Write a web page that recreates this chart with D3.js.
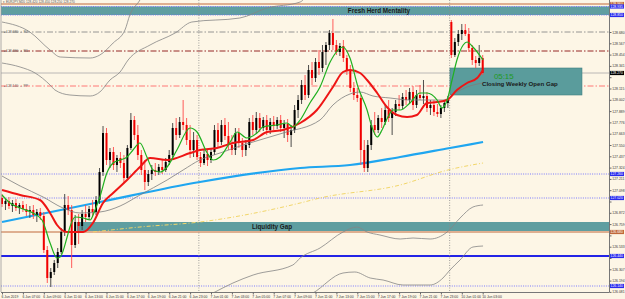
<!DOCTYPE html>
<html><head><meta charset="utf-8">
<script src="https://cdn.jsdelivr.net/npm/d3@7"></script>
<style>html,body{margin:0;padding:0;background:#fdf6e6;overflow:hidden}svg{display:block}text{font-family:"Liberation Sans",Arial,sans-serif}</style>
</head><body><svg id="c" width="625" height="299"></svg>
<script>
// ---------- DATA ----------
const ohlc = [
[127.02,127.06,126.93,126.96],[126.96,127.01,126.90,126.99],[126.99,127.03,126.91,126.94],[126.94,127.00,126.88,126.97],
[126.97,127.01,126.89,126.92],[126.92,126.97,126.86,126.95],[126.95,126.99,126.88,126.91],[126.91,126.96,126.84,126.88],
[126.88,126.94,126.82,126.90],[126.90,126.95,126.81,126.85],[126.85,126.91,126.78,126.88],[126.88,126.92,126.80,126.84],
[126.84,126.88,126.47,126.50],[126.50,126.54,126.17,126.22],[126.22,126.32,126.13,126.28],[126.28,126.40,126.25,126.37],
[126.37,126.52,126.32,126.48],[126.48,126.72,126.46,126.68],[126.68,127.06,126.64,126.95],[126.95,127.04,126.85,126.90],
[126.90,126.95,126.32,126.55],[126.55,126.85,126.52,126.78],[126.78,126.86,126.56,126.74],[126.74,126.90,126.70,126.86],
[126.86,126.95,126.78,126.83],[126.83,126.94,126.80,126.91],[126.91,127.00,126.84,126.88],[126.88,127.04,126.85,127.00],
[127.00,127.32,126.96,127.28],[127.28,127.74,127.24,127.67],[127.67,127.72,127.35,127.40],[127.40,127.52,127.32,127.48],
[127.48,127.53,127.30,127.35],[127.35,127.45,127.28,127.42],[127.42,127.48,127.32,127.37],[127.37,127.45,127.17,127.22],
[127.22,127.55,127.20,127.52],[127.52,127.87,127.50,127.80],[127.80,127.84,127.60,127.65],[127.65,127.75,127.40,127.45],
[127.45,127.50,127.25,127.30],[127.30,127.40,127.10,127.18],[127.18,127.30,127.14,127.26],[127.26,127.35,127.20,127.30],
[127.30,127.37,127.24,127.28],[127.28,127.36,127.25,127.33],[127.33,127.40,127.26,127.30],[127.30,127.42,127.28,127.38],
[127.38,127.50,127.35,127.45],[127.45,127.77,127.42,127.72],[127.72,127.82,127.60,127.65],[127.65,127.83,127.62,127.78],
[127.78,128.00,127.70,127.75],[127.75,127.82,127.55,127.60],[127.60,127.75,127.42,127.50],[127.50,127.68,127.43,127.60],
[127.60,127.65,127.40,127.43],[127.43,127.48,127.33,127.37],[127.37,127.50,127.35,127.46],[127.46,127.50,127.34,127.40],
[127.40,127.52,127.37,127.48],[127.48,127.75,127.45,127.70],[127.70,127.77,127.52,127.58],[127.58,127.80,127.55,127.75],
[127.75,127.82,127.60,127.64],[127.64,127.78,127.50,127.55],[127.55,127.65,127.45,127.50],[127.50,127.72,127.45,127.67],
[127.67,127.72,127.52,127.57],[127.57,127.62,127.43,127.50],[127.50,127.60,127.44,127.55],[127.55,127.82,127.52,127.78],
[127.78,127.85,127.65,127.70],[127.70,127.88,127.67,127.82],[127.82,127.87,127.68,127.72],[127.72,127.83,127.69,127.80],
[127.80,127.85,127.65,127.70],[127.70,127.82,127.66,127.78],[127.78,127.84,127.70,127.74],[127.74,127.83,127.71,127.80],
[127.80,127.85,127.68,127.72],[127.72,127.80,127.62,127.76],[127.76,127.81,127.58,127.65],[127.65,127.75,127.53,127.70],
[127.70,127.95,127.67,127.90],[127.90,128.05,127.82,128.00],[128.00,128.20,127.96,128.15],[128.15,128.25,128.00,128.05],
[128.05,128.35,128.02,128.30],[128.30,128.38,128.15,128.22],[128.22,128.42,128.18,128.38],[128.38,128.50,128.25,128.32],
[128.32,128.55,128.28,128.48],[128.48,128.58,128.35,128.55],[128.55,128.70,128.50,128.67],[128.67,128.81,128.50,128.55],
[128.55,128.60,128.45,128.48],[128.48,128.57,128.44,128.54],[128.54,128.60,128.38,128.42],[128.42,128.45,128.25,128.30],
[128.30,128.35,128.08,128.12],[128.12,128.18,128.00,128.05],[128.05,128.12,127.98,128.02],[128.02,128.05,127.35,127.50],
[127.50,127.60,127.28,127.32],[127.32,127.60,127.28,127.55],[127.55,127.80,127.50,127.75],[127.75,127.88,127.65,127.70],
[127.70,127.85,127.67,127.82],[127.82,127.92,127.72,127.78],[127.78,127.95,127.75,127.90],[127.90,128.00,127.78,127.82],
[127.82,127.92,127.65,127.88],[127.88,128.00,127.84,127.96],[127.96,128.05,127.90,127.94],[127.94,128.07,127.91,128.03],
[128.03,128.10,127.95,128.00],[128.00,128.12,127.96,128.08],[128.08,128.14,127.90,127.95],[127.95,128.10,127.92,128.05],
[128.05,128.15,128.00,128.02],[128.02,128.20,127.96,128.04],[128.04,128.08,127.88,127.92],[127.92,128.00,127.85,127.95],
[127.95,128.00,127.84,127.88],[127.88,127.96,127.83,127.86],[127.86,127.95,127.82,127.92],[127.92,128.00,127.88,127.97],
[127.97,128.04,127.92,128.00],
[128.78,128.80,128.42,128.45],[128.45,128.62,128.43,128.58],[128.58,128.70,128.54,128.66],[128.66,128.76,128.60,128.70],
[128.70,128.76,128.64,128.66],[128.66,128.72,128.48,128.52],[128.52,128.55,128.35,128.40],[128.40,128.44,128.32,128.37],
[128.37,128.55,128.34,128.42],[128.42,128.45,128.25,128.27]
];
const priceTicks = [128.680,128.567,128.454,128.341,128.228,128.115,128.002,127.889,127.776,127.663,127.550,127.437,
127.324,127.211,127.098,126.985,126.872,126.759,126.646,126.533,126.420,126.307,126.194,126.081];
const timeLabels = ["6 Jun 2019","6 Jun 07:00","6 Jun 09:00","6 Jun 11:00","6 Jun 13:00","6 Jun 15:00","6 Jun 17:00",
"6 Jun 19:00","6 Jun 21:00","6 Jun 23:00","7 Jun 01:00","7 Jun 03:00","7 Jun 05:00","7 Jun 07:00","7 Jun 09:00",
"7 Jun 11:00","7 Jun 13:00","7 Jun 15:00","7 Jun 17:00","7 Jun 19:00","7 Jun 21:00","7 Jun 23:00","10 Jun 01:00","10 Jun 03:00"];
const timeLabelIdx = [0,6,12,18,24,30,36,42,48,54,60,66,72,78,84,90,96,102,108,114,120,126,132,138];
const separatorIdx = [57,129];
const emaFast = [[0,127.05],[2.3,126.97],[5.2,126.92],[8.9,126.87],[11.5,126.80],[13.8,126.57],[15.8,126.42],[16.7,126.43],
[18.7,126.63],[19.5,126.73],[21,126.83],[23.3,126.82],[25.3,126.80],[26.7,126.90],[28.1,127.03],[30.1,127.27],[31.9,127.37],
[33.9,127.40],[35.9,127.43],[37.6,127.50],[39.6,127.57],[41.6,127.43],[43.4,127.30],[45.4,127.28],[47.4,127.33],[50.2,127.50],
[54,127.72],[56,127.68],[58.9,127.47],[60.6,127.40],[62.6,127.43],[65.5,127.58],[67.5,127.68],[70.3,127.62],[73.2,127.67],
[74.9,127.73],[79,127.75],[81.8,127.77],[83.5,127.73],[85.6,127.80],[88.4,127.97],[91.3,128.13],[94.2,128.38],[97.9,128.53],
[99.9,128.42],[102.2,128.13],[104.8,127.90],[106.2,127.73],[107.7,127.63],[109.1,127.70],[110.8,127.83],[112.3,127.90],
[114.3,127.90],[117.1,127.97],[120,128.07],[122,128.07],[124.9,128.00],[126.3,127.92],[127.8,128.00],[129.2,128.20],
[130.6,128.40],[132.4,128.55],[133.5,128.58],[135.2,128.53],[138.1,128.40]];
const emaSlow = [[0,127.10],[5.2,127.05],[10.9,127.00],[13.8,126.87],[15.8,126.75],[18.7,126.68],[23.3,126.68],[26.1,126.77],
[29,126.97],[31.9,127.07],[35.9,127.20],[39.6,127.33],[42.5,127.42],[47.4,127.40],[54,127.47],[56.8,127.50],[61.7,127.52],
[66.3,127.57],[72.1,127.60],[76.1,127.68],[80.7,127.70],[85.6,127.77],[90.4,127.90],[95,128.13],[97.9,128.28],[99.9,128.30],
[102.8,128.27],[104.8,128.20],[107.7,128.07],[110.5,127.93],[113.4,127.85],[116.3,127.83],[119.1,127.85],[122,127.97],
[124.9,127.98],[127.8,128.00],[130.6,128.10],[133.5,128.17],[136.4,128.22],[138.1,128.30]];
const smaMid = [[0,127.24],[5.2,127.14],[11.8,127.03],[17.5,126.92],[22.4,126.87],[28.1,126.88],[33.9,126.94],[39.6,127.05],
[47.4,127.20],[52,127.30],[56.8,127.40],[62.6,127.47],[69.2,127.55],[80.7,127.67],[91.3,127.80],[95,127.95],[99.9,128.06],
[102.8,128.08],[106.5,128.04],[111.4,128.02],[117.1,128.00],[126.6,128.00],[130.6,128.08],[133.5,128.13],[138.1,128.17]];
const bandUpperOuter = [[0,128.78],[8,128.68],[13.8,128.50],[16.7,128.43],[25.3,128.42],[28.1,128.45],[31.9,128.57],
[35.3,128.70],[36.7,128.85],[39.6,129.00],[42.5,129.20]];
const bandUpperInner = [[0,128.37],[5.2,128.33],[9.5,128.27],[13.8,128.15],[15.2,128.10],[19.5,128.05],[25.3,128.04],
[28.1,128.08],[31,128.20],[33.9,128.28],[36.2,128.40],[42.5,128.55],[49.7,128.67],[54.5,128.78],[68.3,128.82],[76.1,128.92],
[85.6,128.98],[88.4,129.10]];
const bandLowerInner = [[56.8,126.00],[60.6,126.07],[66.3,126.17],[72.1,126.25],[83.5,126.35],[85.6,126.42],[91.3,126.52],
[97.9,126.68],[101.9,126.73],[104.8,126.68],[108.5,126.65],[114.3,126.61],[118,126.62],[122.9,126.61],[127.8,126.68],
[131.5,126.82],[135.2,126.93],[138.1,126.95]];
const bandLowerOuter = [[85.6,126.00],[89.3,126.07],[97.9,126.27],[101.3,126.28],[105.7,126.22],[109.4,126.20],[115.1,126.15],
[122.9,126.15],[126.6,126.22],[128.6,126.30],[131.5,126.40],[135.2,126.53],[138.1,126.54]];
const smaLong = [[0,126.78],[28.1,126.98],[56.8,127.18],[85.6,127.32],[99.9,127.35],[114.3,127.43],[128.6,127.52],[138.1,127.58]];
const smaYellow = [[26.1,126.68],[39.6,126.73],[56.8,126.78],[85.6,126.97],[91.3,127.02],[114.3,127.15],[128,127.30],[138.1,127.37]];
// horizontal levels
const zoneNames = ["Fresh Herd Mentality","Liquidity Gap"];
const zoneTops = [128.935,126.78];
const zoneBottoms = [128.85,126.69];
const zoneStartIdx = [-1,21.5];
const gapBoxName = "Closing Weekly Open Gap";
const gapBoxPrices = [128.32,128.05];
const gapBoxIdx = [128.6,166.5];
const timerText = "05:15";
const dashDotLevels = [128.68,128.49,128.14];
const dashDotNames = ["R2","R1","PP"];
const dottedBlueLevels = [128.935,128.85,127.26,127.02,126.14];
const brownLevels = [128.96,126.68];
const solidBlueLevels = [126.44];
const lastPrice = 128.27;
const title = "▾ EURJPY,M20  128.420 128.450 128.250 128.270";
const tagPrices = [128.96,128.935,128.85,128.27,127.26,127.02,126.68,126.44,126.14];
const tagColors = ['#c0683a','#2a2aee','#2a2aee','#000','#2a2aee','#2a2aee','#c0683a','#2a2aee','#2a2aee'];

// ---------- SCALES ----------
const W=625,H=299, PR=609, PB=292;
const x = d3.scaleLinear().domain([0,138]).range([2,482.7]);
const y = d3.scaleLinear().domain([129,126.08]).range([0,292]);
const svg = d3.select('#c');
svg.append('rect').attr('width',W).attr('height',H).attr('fill','#fdf6e6');
svg.append('defs').append('clipPath').attr('id','plot').append('rect').attr('x',1).attr('y',0).attr('width',PR-1).attr('height',PB);
const g = svg.append('g').attr('clip-path','url(#plot)');

const teal = '#5f9ea0';
zoneNames.forEach((n,k)=>{
  const x0 = zoneStartIdx[k] < 0 ? 1 : x(zoneStartIdx[k]);
  g.append('rect').attr('x',x0).attr('y',y(zoneTops[k])).attr('width',PR-x0).attr('height',y(zoneBottoms[k])-y(zoneTops[k])).attr('fill',teal);
});
brownLevels.forEach(p=>g.append('line').attr('x1',1).attr('x2',PR).attr('y1',y(p)).attr('y2',y(p)).attr('stroke','#c0683a').attr('stroke-width',1));
dottedBlueLevels.forEach(p=>g.append('line').attr('x1',1).attr('x2',PR).attr('y1',y(p)).attr('y2',y(p)).attr('stroke','#6b6bff').attr('stroke-width',0.9).attr('stroke-dasharray','1,1.3'));
solidBlueLevels.forEach(p=>g.append('line').attr('x1',1).attr('x2',PR).attr('y1',y(p)).attr('y2',y(p)).attr('stroke','#2323e6').attr('stroke-width',2));
const ddColors = ['#8a8a8a','#8b1010','#ff6a6a'];
dashDotLevels.forEach((p,k)=>{
  g.append('line').attr('x1',1).attr('x2',PR).attr('y1',y(p)).attr('y2',y(p)).attr('stroke',ddColors[k]).attr('stroke-width',0.9).attr('stroke-dasharray','6,2,1.5,2');
  g.append('text').attr('x',4).attr('y',y(p)+1.2).attr('font-size',3.4).attr('fill','#666').text('▸'+p.toFixed(3)+' ← '+dashDotNames[k]);
});
g.append('line').attr('x1',1).attr('x2',PR).attr('y1',y(lastPrice)).attr('y2',y(lastPrice)).attr('stroke','#a8a8a8').attr('stroke-width',0.8);
separatorIdx.forEach(i=>g.append('line').attr('x1',x(i)-1.7).attr('x2',x(i)-1.7).attr('y1',0).attr('y2',PB).attr('stroke','#8a8a8a').attr('stroke-width',0.8).attr('stroke-dasharray','1,1.5'));
g.append('rect').attr('x',x(gapBoxIdx[0])).attr('y',y(gapBoxPrices[0])).attr('width',x(gapBoxIdx[1])-x(gapBoxIdx[0]))
 .attr('height',y(gapBoxPrices[1])-y(gapBoxPrices[0])).attr('fill','#5a9c9c').attr('stroke','#3f7f80').attr('stroke-width',0.6);

const line = d3.line().x(d=>x(d[0])).y(d=>y(d[1])).curve(d3.curveMonotoneX);
[bandUpperOuter,bandUpperInner,bandLowerInner,bandLowerOuter].forEach(s=>g.append('path').attr('d',line(s)).attr('fill','none').attr('stroke','#858585').attr('stroke-width',0.8));
g.append('path').attr('d',line(smaYellow)).attr('fill','none').attr('stroke','#f2d66a').attr('stroke-width',1).attr('stroke-dasharray','4,2,1,2');
g.append('path').attr('d',line(smaLong)).attr('fill','none').attr('stroke','#1fa6f0').attr('stroke-width',2.2);

const bw = 2;
const cg = g.append('g');
cg.selectAll('line.w').data(ohlc).join('line').attr('x1',(d,i)=>x(i)).attr('x2',(d,i)=>x(i))
  .attr('y1',d=>y(d[1])).attr('y2',d=>y(d[2])).attr('stroke',d=>d[3]>=d[0]?'#3a3a3a':'#ff4a4a').attr('stroke-width',0.9);
cg.selectAll('rect.b').data(ohlc).join('rect').attr('x',(d,i)=>x(i)-bw/2).attr('width',bw)
  .attr('y',d=>y(Math.max(d[0],d[3]))).attr('height',d=>Math.max(0.8,Math.abs(y(d[0])-y(d[3]))))
  .attr('fill',d=>d[3]>=d[0]?'#000':'#f00000');

g.append('path').attr('d',line(smaMid)).attr('fill','none').attr('stroke','#7d7d7d').attr('stroke-width',0.8);
g.append('path').attr('d',line(emaSlow)).attr('fill','none').attr('stroke','#ee1515').attr('stroke-width',2);
g.append('path').attr('d',line(emaFast)).attr('fill','none').attr('stroke','#1fb01f').attr('stroke-width',1.2);

g.append('text').attr('x',379).attr('y',y((zoneTops[0]+zoneBottoms[0])/2)+2.2).attr('text-anchor','middle').attr('font-size',6.3).attr('font-weight','bold').attr('fill','#1a1a1a').text(zoneNames[0]);
g.append('text').attr('x',272).attr('y',y((zoneTops[1]+zoneBottoms[1])/2)+2.2).attr('text-anchor','middle').attr('font-size',6.3).attr('font-weight','bold').attr('fill','#1a1a1a').text(zoneNames[1]);
g.append('text').attr('x',494).attr('y',78.6).attr('font-size',7.8).attr('fill','#1e9a1e').text(timerText);
g.append('text').attr('x',482).attr('y',85.6).attr('font-size',6.1).attr('font-weight','bold').attr('fill','#1a1a1a').text(gapBoxName);
g.append('text').attr('x',3).attr('y',3.2).attr('font-size',3.2).attr('fill','#555').text(title);

svg.append('line').attr('x1',PR+0.5).attr('x2',PR+0.5).attr('y1',0).attr('y2',PB).attr('stroke','#777');
svg.append('line').attr('x1',1).attr('x2',PR+0.5).attr('y1',PB+0.5).attr('y2',PB+0.5).attr('stroke','#777');
svg.append('line').attr('x1',1).attr('x2',1).attr('y1',0).attr('y2',PB).attr('stroke','#999').attr('stroke-width',0.8);

const shownTicks = priceTicks.filter(t=>!tagPrices.some(p=>Math.abs(y(p)-y(t))<4.6));
const ya = svg.append('g').attr('transform',`translate(${PR+0.5},0)`)
  .call(d3.axisRight(y).tickValues(priceTicks).tickFormat(d=>shownTicks.includes(d)?d3.format('.3f')(d):'').tickSize(2).tickPadding(0.8));
ya.select('.domain').remove();
ya.selectAll('line').attr('stroke','#666');
ya.selectAll('text').attr('font-size',3.4).attr('fill','#333').attr('font-family','Liberation Sans');
const xa = svg.append('g').attr('transform',`translate(0,${PB+0.5})`)
  .call(d3.axisBottom(x).tickValues(timeLabelIdx).tickFormat((d,k)=>timeLabels[k]).tickSize(2).tickPadding(0.8));
xa.select('.domain').remove();
xa.selectAll('line').attr('stroke','#666');
xa.selectAll('text').attr('font-size',3.4).attr('fill','#333').attr('text-anchor','start').attr('dx',-1).attr('font-family','Liberation Sans');

const tags = svg.append('g');
tagPrices.forEach((p,k)=>{
  tags.append('rect').attr('x',PR+1).attr('y',y(p)-2.1).attr('width',14).attr('height',4.2).attr('fill',tagColors[k]);
  tags.append('text').attr('x',PR+1.6).attr('y',y(p)+1.2).attr('font-size',3.4).attr('fill','#fff').text(p.toFixed(3));
});
</script></body></html>
